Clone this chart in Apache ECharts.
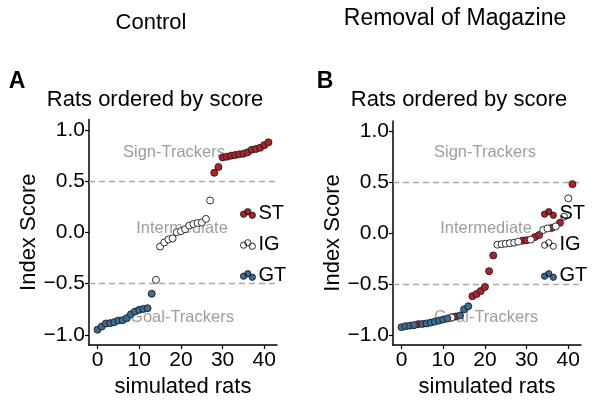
<!DOCTYPE html>
<html>
<head>
<meta charset="utf-8">
<script src="https://cdn.jsdelivr.net/npm/echarts@6/dist/echarts.min.js"></script>
<style>html,body{margin:0;padding:0;background:#fff}#c{width:600px;height:404px}</style>
</head>
<body>
<div id="c"></div>
<script>
// ---- data ----
var groupNames = ['ST', 'IG', 'GT'];
var xTicks = [0, 10, 20, 30, 40];
var yTicks = [-1, -0.5, 0, 0.5, 1];
var thresholds = [0.5, -0.5];

// Control: rats ordered by score (index 0..41)
var controlScores = [
  -0.95, -0.92, -0.89, -0.887, -0.877, -0.861, -0.858, -0.838, -0.80, -0.774, -0.757, -0.748, -0.741, -0.60,
  -0.465, -0.14, -0.10, -0.07, -0.06, 0.0, 0.01, 0.03, 0.065, 0.08, 0.09, 0.095, 0.13, 0.31,
  0.58, 0.636, 0.73, 0.737, 0.747, 0.753, 0.76, 0.766, 0.78, 0.805, 0.812, 0.825, 0.85, 0.877
];
var controlGroups = [
  'GT','GT','GT','GT','GT','GT','GT','GT','GT','GT','GT','GT','GT','GT',
  'IG','IG','IG','IG','IG','IG','IG','IG','IG','IG','IG','IG','IG','IG',
  'ST','ST','ST','ST','ST','ST','ST','ST','ST','ST','ST','ST','ST','ST'
];

// Removal of Magazine: rats ordered by score (index 0..41), coloured by control group
var removalScores = [
  -0.925, -0.915, -0.91, -0.905, -0.895, -0.893, -0.888, -0.88, -0.87, -0.86, -0.85, -0.84, -0.83, -0.82,
  -0.81, -0.75, -0.72, -0.62, -0.60, -0.57, -0.53, -0.375, -0.22, -0.115, -0.11, -0.105, -0.10, -0.095,
  -0.085, -0.075, -0.07, -0.065, -0.04, -0.02, 0.03, 0.045, 0.05, 0.065, 0.10, 0.16, 0.34, 0.48
];
var removalGroups = [
  'GT','GT','GT','GT','ST','GT','GT','GT','GT','GT','GT','GT','IG','ST',
  'GT','GT','GT','ST','ST','ST','ST','ST','ST','IG','IG','IG','IG','IG',
  'IG','ST','ST','IG','ST','ST','IG','IG','ST','IG','ST','IG','IG','ST'
];

// ---- styles ----
var colors = { ST: '#B1222E', IG: '#FFFFFF', GT: '#3C6D96' };
var FONT = 'Liberation Sans, Arial, sans-serif';
var iconPath = 'path://M0,5.3a3,3 0 1,0 6,0a3,3 0 1,0 -6,0ZM4,3a3,3 0 1,0 6,0a3,3 0 1,0 -6,0ZM8.3,6.3a3,3 0 1,0 6,0a3,3 0 1,0 -6,0Z';

function pts(scores, groups, g) {
  var out = [];
  for (var i = 0; i < scores.length; i++) if (groups[i] === g) out.push([i, scores[i]]);
  return out;
}
function fmtY(v) {
  var s = Math.abs(v).toFixed(1);
  return v < 0 ? '\u2212' + s : s;
}

var grids = [
  { left: 89, top: 119.5, width: 188, height: 225.5 },
  { left: 393, top: 121, width: 188, height: 224 }
];

function xAx(gi) {
  return {
    type: 'value', gridIndex: gi, min: -2.05, max: 43.05,
    name: 'simulated rats', nameLocation: 'middle', nameGap: 30,
    nameTextStyle: { fontFamily: FONT, fontSize: 22, color: '#000' },
    axisLine: { onZero: false, lineStyle: { color: '#000', width: 1.5 } },
    axisTick: { show: true, length: 4, customValues: xTicks, lineStyle: { color: '#000', width: 1.2 } },
    axisLabel: { customValues: xTicks, fontFamily: FONT, fontSize: 21, color: '#000', margin: 5 },
    splitLine: { show: false }
  };
}
function yAx(gi) {
  return {
    type: 'value', gridIndex: gi, min: -1.1, max: 1.1,
    name: 'Index Score', nameLocation: 'middle', nameGap: 49, nameRotate: 90,
    nameTextStyle: { fontFamily: FONT, fontSize: 22, color: '#000' },
    axisLine: { show: true, onZero: false, lineStyle: { color: '#000', width: 1.5 } },
    axisTick: { show: true, length: 4, customValues: yTicks, lineStyle: { color: '#000', width: 1.2 } },
    axisLabel: { customValues: yTicks, formatter: fmtY, fontFamily: FONT, fontSize: 21, color: '#000', margin: 4 },
    splitLine: { show: false }
  };
}

var series = [];
[[controlScores, controlGroups], [removalScores, removalGroups]].forEach(function (d, gi) {
  groupNames.forEach(function (g, k) {
    var s = {
      type: 'scatter', name: g, xAxisIndex: gi, yAxisIndex: gi,
      data: pts(d[0], d[1], g), symbol: 'circle', symbolSize: 7, z: 3,
      itemStyle: { color: colors[g], borderColor: '#1a1a1a', borderWidth: 0.9, opacity: 1 },
      emphasis: { disabled: true }, animation: false
    };
    if (k === 0) {
      s.markLine = {
        silent: true, symbol: 'none', label: { show: false }, z: 1,
        lineStyle: { color: '#a8a8a8', type: [6, 4], width: 1.3 },
        data: thresholds.map(function (t) { return { yAxis: t }; })
      };
    }
    series.push(s);
  });
});

function legendFor(left) {
  return {
    orient: 'vertical', left: left, top: 203, itemGap: 10, padding: 0,
    itemWidth: 15, itemHeight: 10, selectedMode: false,
    textStyle: { fontFamily: FONT, fontSize: 20, color: '#000', lineHeight: 21, padding: [0, 0, 0, -2] },
    data: groupNames.map(function (g) {
      return { name: g, icon: iconPath,
        itemStyle: { color: colors[g], borderColor: '#1a1a1a', borderWidth: 0.9 } };
    })
  };
}

function txt(x, y, s, size, color, weight) {
  return { type: 'text', x: x, y: y, z: 0, silent: true,
    style: { text: s, fontFamily: FONT, fontSize: size, fill: color || '#000', fontWeight: weight || 'normal',
      align: 'center', verticalAlign: 'middle' } };
}

var graphics = [
  txt(151, 23, 'Control', 22),
  txt(455, 19, 'Removal of Magazine', 23),
  txt(17, 82, 'A', 23, '#000', 'bold'),
  txt(325, 82, 'B', 23, '#000', 'bold'),
  txt(155, 100, 'Rats ordered by score', 22),
  txt(459, 100, 'Rats ordered by score', 22),
  txt(174, 152, 'Sign-Trackers', 16.5, '#9d9d9d'),
  txt(182, 228, 'Intermediate', 16.5, '#9d9d9d'),
  txt(182, 317, 'Goal-Trackers', 16.5, '#9d9d9d'),
  txt(485, 152, 'Sign-Trackers', 16.5, '#9d9d9d'),
  txt(486, 228, 'Intermediate', 16.5, '#9d9d9d'),
  txt(486, 317, 'Goal-Trackers', 16.5, '#9d9d9d')
];

var chart = echarts.init(document.getElementById('c'), null, { renderer: 'canvas' });
chart.setOption({
  animation: false,
  backgroundColor: '#fff',
  grid: grids,
  xAxis: [xAx(0), xAx(1)],
  yAxis: [yAx(0), yAx(1)],
  legend: [legendFor(240), legendFor(541)],
  graphic: graphics,
  series: series
});
</script>
</body>
</html>
